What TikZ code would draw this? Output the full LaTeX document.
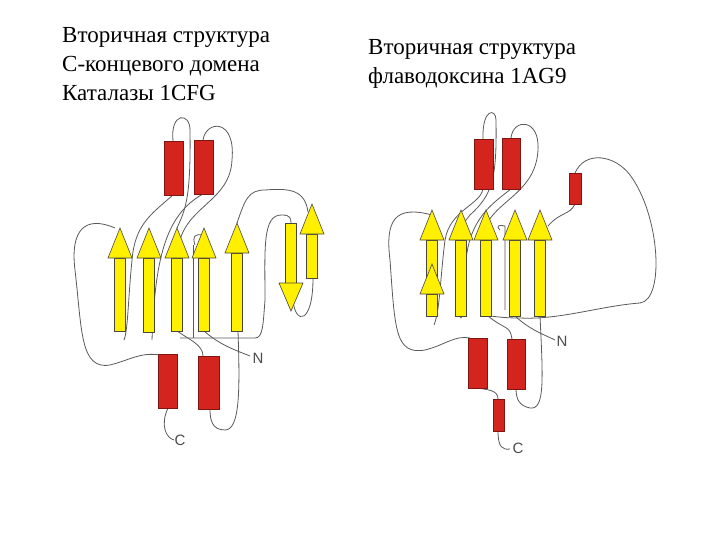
\documentclass[tikz,border=0pt]{standalone}
\usepackage{fontspec}
\setmainfont{Liberation Serif}
\newfontfamily\lsans{Liberation Sans}
\definecolor{hred}{RGB}{212,36,30}
\definecolor{syel}{RGB}{255,240,0}
\begin{document}
\begin{tikzpicture}[x=1pt,y=-1pt,
  helix/.style={fill=hred,draw=hred!60!black,line width=0.6pt},
  strandbody/.style={fill=syel,draw=black!70!yellow!60!black,line width=0.6pt},
  loop/.style={draw=black!65,line width=0.8pt},
  ttl/.style={anchor=north west,align=left,font=\fontsize{23}{29}\selectfont,inner sep=0pt},
  lab/.style={font=\lsans\fontsize{15}{15}\selectfont,text=black!70,inner sep=0pt}]
\useasboundingbox (0,0) rectangle (720,540);
\node[ttl] (t1) at (62,27) {Вторичная структура\\С-концевого домена\\Каталазы 1CFG};
\node[ttl] (t2) at (368,39) {Вторичная структура\\флаводоксина 1AG9};
\newcommand{\upstrand}[5]{\draw[strandbody] (#1-5.5,#3) rectangle (#1+5.5,#4);
  \draw[strandbody,fill=syel] (#1-#5,#3) -- (#1,#2) -- (#1+#5,#3) -- cycle;}
\newcommand{\dnstrand}[5]{\draw[strandbody] (#1-5.5,#4) rectangle (#1+5.5,#3);
  \draw[strandbody] (#1-#5,#3) -- (#1,#2) -- (#1+#5,#3) -- cycle;}
% ---------- LEFT ----------
\draw[loop] (173,141) .. controls (170,112) and (190,112) .. (190,130) .. controls (191,200) and (185,210) .. (177,228);
\draw[loop] (203,140) .. controls (206,120) and (236,118) .. (232,160) .. controls (230,200) and (190,205) .. (180,240);
\draw[loop] (173,195) .. controls (150,215) and (135,225) .. (132,260) .. controls (128,300) and (128,330) .. (124,340);
\draw[loop] (203,194) .. controls (165,215) and (155,260) .. (152,340);
\draw[loop] (115,228) .. controls (85,215) and (70,230) .. (75,270) .. controls (82,330) and (80,370) .. (110,365) .. controls (130,360) and (140,352) .. (160,355);
\draw[loop] (177,331) .. controls (190,340) and (203,345) .. (203,356);
\draw[loop] (180,338) -- (255,338) .. controls (263,338) and (263,325) .. (265,300) .. controls (265,250) and (262,214) .. (282,215) .. controls (290,215) and (291,218) .. (291,223);
\draw[loop] (195,245) .. controls (192,236) and (195,234) .. (202,235);
\draw[loop] (193,245) -- (193,338);
\draw[loop] (237,223) .. controls (245,200) and (248,190) .. (265,190) .. controls (290,188) and (305,190) .. (308,212);
\draw[loop] (293,300) .. controls (295,325) and (313,325) .. (313,278);
\draw[loop] (238,331) .. controls (240,390) and (240,430) .. (225,430) .. controls (212,430) and (210,420) .. (210,409);
\draw[loop] (204,331) .. controls (220,345) and (235,350) .. (250,356);
\draw[loop] (168,408) .. controls (160,425) and (166,438) .. (174,440);
\draw[helix] (164,141) rectangle (183,195);
\draw[helix] (194,140) rectangle (213,194);
\draw[helix] (158,354) rectangle (177,408);
\draw[helix] (198,356) rectangle (219,409);
\upstrand{120}{228}{258}{331}{12}
\upstrand{149}{228}{258}{332}{12}
\upstrand{177}{228}{258}{331}{12}
\upstrand{204}{228}{258}{331}{12}
\upstrand{237}{223}{253}{331}{12}
\dnstrand{291}{311}{283}{223}{12}
\upstrand{312}{204}{234}{278}{12}
\node[lab] (n1) at (258,358) {N};
\node[lab] (c1) at (180,440) {C};
% ---------- RIGHT ----------
\draw[loop] (483,139) .. controls (482,108) and (496,108) .. (496,120) .. controls (497,180) and (492,195) .. (470,215) .. controls (462,225) .. (462,230);
\draw[loop] (511,138) .. controls (513,118) and (540,118) .. (538,150) .. controls (536,190) and (500,200) .. (488,222);
\draw[loop] (483,189) .. controls (480,205) and (450,210) .. (445,240) .. controls (440,280) and (440,310) .. (434,325);
\draw[loop] (511,189) .. controls (490,205) and (470,220) .. (466,260) .. controls (463,300) and (465,318) .. (460,318);
\draw[loop] (432,215) .. controls (395,205) and (385,220) .. (390,260) .. controls (395,330) and (395,355) .. (425,350) .. controls (445,345) and (455,335) .. (470,338);
\draw[loop] (548,226) .. controls (560,212) and (570,215) .. (575,204);
\draw[loop] (575,173) .. controls (585,150) and (615,155) .. (630,175) .. controls (660,215) and (665,300) .. (640,303) .. controls (600,306) and (560,320) .. (520,318) .. controls (500,318) and (495,316) .. (487,316);
\draw[loop] (500,230) .. controls (495,225) and (500,225) .. (505,226) -- (505,310);
\draw[loop] (488,316) .. controls (505,330) and (510,325) .. (512,339);
\draw[loop] (515,316) .. controls (530,330) and (545,335) .. (555,340);
\draw[loop] (540,316) .. controls (543,380) and (545,410) .. (530,408) .. controls (520,406) and (516,400) .. (516,389);
\draw[loop] (478,388) .. controls (488,390) and (498,390) .. (498,399);
\draw[loop] (498,431) .. controls (498,448) and (503,450) .. (510,449);
\draw[helix] (474,139) rectangle (493,189);
\draw[helix] (502,138) rectangle (520,189);
\draw[helix] (569,173) rectangle (581,204);
\draw[helix] (468,338) rectangle (487,388);
\draw[helix] (507,339) rectangle (525,389);
\draw[helix] (493,399) rectangle (504,431);
\upstrand{432}{210}{240}{316}{12}
\upstrand{432}{264}{294}{316}{12}
\upstrand{461}{210}{240}{316}{12}
\upstrand{486}{210}{240}{316}{12}
\upstrand{515}{210}{240}{316}{12}
\upstrand{540}{210}{240}{316}{12}
\node[lab] (n2) at (562,341) {N};
\node[lab] (c2) at (518,448) {C};
\end{tikzpicture}
\end{document}
